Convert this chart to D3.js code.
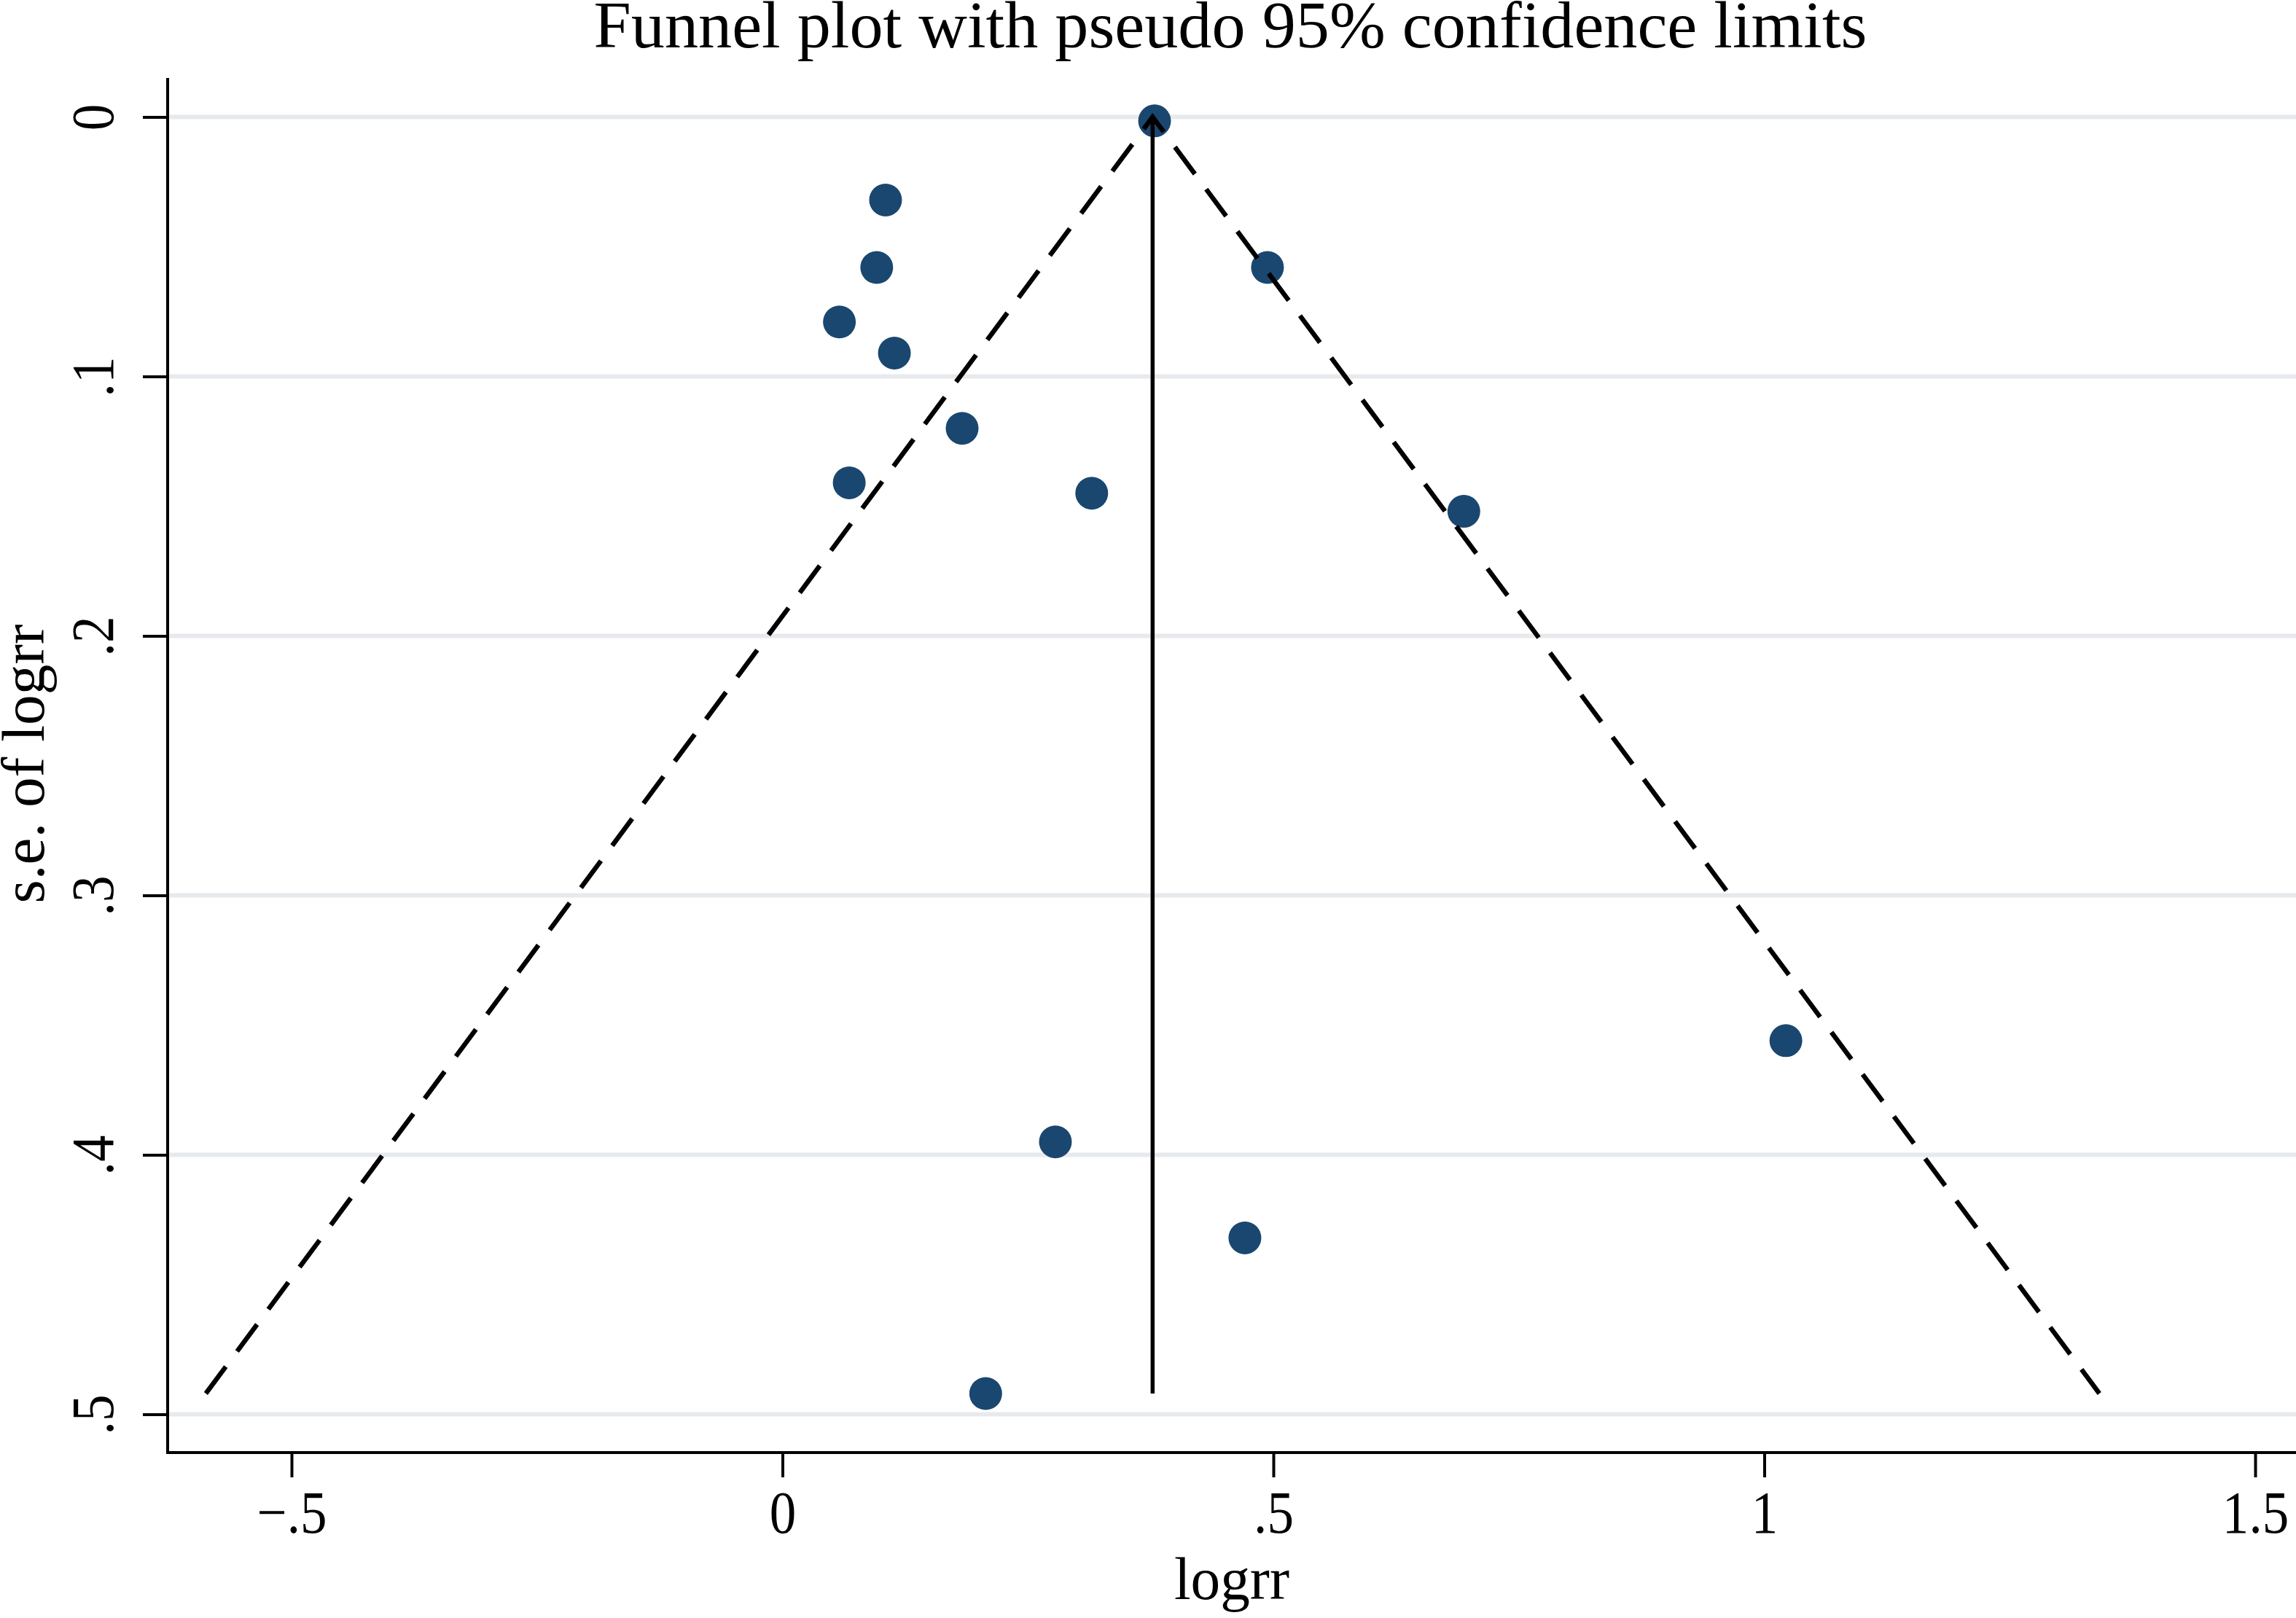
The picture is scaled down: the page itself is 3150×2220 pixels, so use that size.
<!DOCTYPE html>
<html>
<head>
<meta charset="utf-8">
<script src="https://cdn.jsdelivr.net/npm/d3@7"></script>
<style>
  html, body { margin: 0; padding: 0; background: #fff; }
  svg { display: block; }
  text { font-family: "Liberation Serif", "Times New Roman", serif; fill: #000; }
</style>
</head>
<body>
<svg id="chart"></svg>
<script>
// study estimates (log risk ratio and its s.e.)
const logrr = [0.379, 0.105, 0.096, 0.058, 0.114, 0.183, 0.068, 0.315, 0.494, 0.694, 1.022, 0.278, 0.471, 0.207]
const seLogrr = [0.0015, 0.032, 0.058, 0.079, 0.091, 0.120, 0.141, 0.145, 0.058, 0.152, 0.356, 0.395, 0.432, 0.492]
const pooled = 0.377
const zCrit = 1.96

const xTicks = [-0.5, 0, 0.5, 1, 1.5]
const xTickLabels = ['\u2212.5', '0', '.5', '1', '1.5']
const yTicks = [0, 0.1, 0.2, 0.3, 0.4, 0.5]
const yTickLabels = ['0', '.1', '.2', '.3', '.4', '.5']

const titleText = 'Funnel plot with pseudo 95% confidence limits'
const xTitle = 'logrr'
const yTitle = 's.e. of logrr'

const width = 3150, height = 2220
const frame = { left: 230, right: 3150, top: 107, bottom: 1993 }

const svg = d3.select('#chart')
  .attr('width', width)
  .attr('height', height)

svg.append('rect')
  .attr('width', width)
  .attr('height', height)
  .attr('fill', '#fff')

/* SCALES */
const x = d3.scaleLinear().domain([-0.5, 1.5]).range([400, 3094])
const y = d3.scaleLinear().domain([0, 0.5]).range([160.5, 1940.5])

/* GRIDLINES */
svg.append('g')
  .selectAll('line')
  .data(yTicks)
  .enter().append('line')
  .attr('x1', frame.left)
  .attr('x2', frame.right)
  .attr('y1', d => y(d))
  .attr('y2', d => y(d))
  .attr('stroke', '#e7eaed')
  .attr('stroke-width', 6)

/* POINTS */
const studies = logrr.map((v, i) => ({ est: v, se: seLogrr[i] }))

svg.append('g')
  .selectAll('circle')
  .data(studies)
  .enter().append('circle')
  .attr('cx', d => x(d.est))
  .attr('cy', d => y(d.se))
  .attr('r', 22.5)
  .attr('fill', '#1a476f')

/* FUNNEL + POOLED LINE */
const seMax = d3.max(seLogrr)
const line = d3.line().x(d => x(d[0])).y(d => y(d[1]))

svg.append('path')
  .datum([[pooled - zCrit * seMax, seMax], [pooled, 0], [pooled + zCrit * seMax, seMax]])
  .attr('d', line)
  .attr('fill', 'none')
  .attr('stroke', '#000')
  .attr('stroke-width', 6.5)
  .attr('stroke-dasharray', '46,26')

svg.append('path')
  .datum([[pooled, 0], [pooled, seMax]])
  .attr('d', line)
  .attr('fill', 'none')
  .attr('stroke', '#000')
  .attr('stroke-width', 5.5)

/* AXES */
const xAxis = d3.axisBottom(x)
  .tickValues(xTicks)
  .tickFormat((d, i) => xTickLabels[i])
  .tickSize(34)

const gx = svg.append('g')
  .attr('transform', `translate(0, ${frame.bottom})`)
  .call(xAxis)
gx.select('.domain').remove()
gx.selectAll('line').attr('stroke', '#000').attr('stroke-width', 4)
gx.selectAll('text')
  .attr('y', 110)
  .attr('dy', 0)
  .attr('font-size', 83)
  .attr('font-family', '"Liberation Serif", serif')

const yAxis = d3.axisLeft(y)
  .tickValues(yTicks)
  .tickFormat((d, i) => yTickLabels[i])
  .tickSize(34)

const gy = svg.append('g')
  .attr('transform', `translate(${frame.left}, 0)`)
  .call(yAxis)
gy.select('.domain').remove()
gy.selectAll('line').attr('stroke', '#000').attr('stroke-width', 4)
gy.selectAll('text')
  .attr('x', 0)
  .attr('dy', 0)
  .attr('transform', 'translate(-75, 0) rotate(-90)')
  .attr('text-anchor', 'middle')
  .attr('font-size', 83)
  .attr('font-family', '"Liberation Serif", serif')

// axis lines framing the plot region
svg.append('line')
  .attr('x1', frame.left).attr('x2', frame.left)
  .attr('y1', frame.top).attr('y2', frame.bottom + 2)
  .attr('stroke', '#000').attr('stroke-width', 4)
svg.append('line')
  .attr('x1', frame.left - 2).attr('x2', frame.right)
  .attr('y1', frame.bottom).attr('y2', frame.bottom)
  .attr('stroke', '#000').attr('stroke-width', 4)

/* TITLES */
svg.append('text')
  .attr('x', 1688).attr('y', 65)
  .attr('text-anchor', 'middle')
  .attr('font-size', 90)
  .attr('textLength', 1747)
  .attr('lengthAdjust', 'spacingAndGlyphs')
  .text(titleText)

svg.append('text')
  .attr('x', 1690).attr('y', 2194)
  .attr('text-anchor', 'middle')
  .attr('font-size', 83)
  .attr('textLength', 158)
  .attr('lengthAdjust', 'spacingAndGlyphs')
  .text(xTitle)

svg.append('text')
  .attr('transform', 'translate(60, 1048) rotate(-90)')
  .attr('text-anchor', 'middle')
  .attr('font-size', 83)
  .attr('textLength', 383)
  .attr('lengthAdjust', 'spacingAndGlyphs')
  .text(yTitle)

// tick labels in the reference are a little narrower than Liberation Serif
svg.selectAll('.tick text').each(function() {
  const len = this.getComputedTextLength()
  d3.select(this)
    .attr('textLength', len * 0.88)
    .attr('lengthAdjust', 'spacingAndGlyphs')
})
</script>
</body>
</html>
